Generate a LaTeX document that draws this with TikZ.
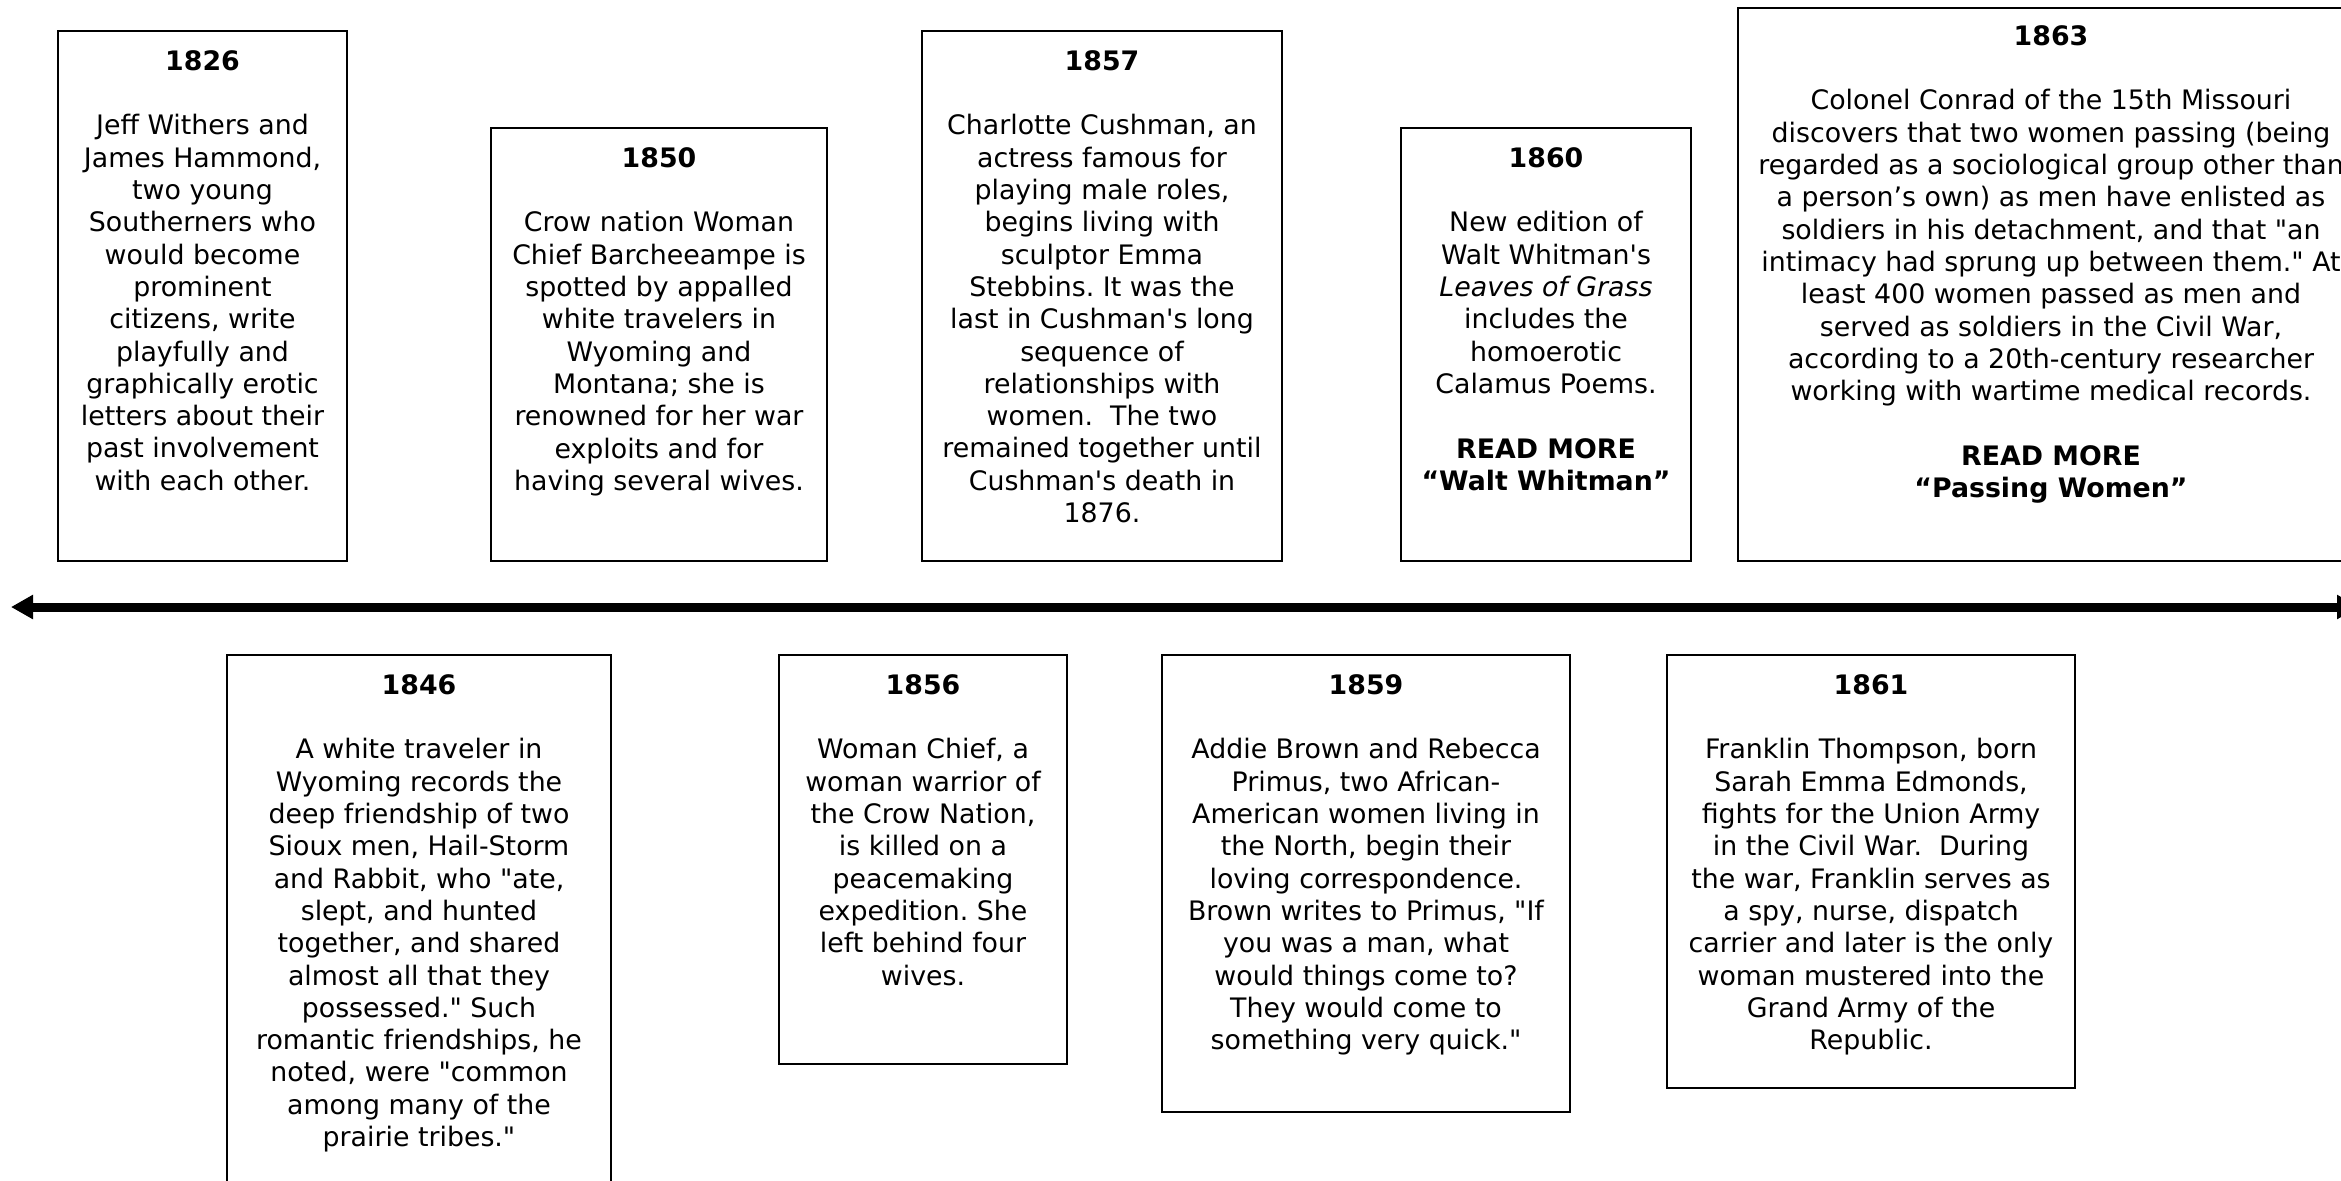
\documentclass[tikz,border=0pt]{standalone}
\usepackage{fontspec}
\setmainfont{DejaVu Sans}[Ligatures=TeXOff]
\usetikzlibrary{arrows.meta}
\tikzset{
  evbox/.style={draw=black, line width=1pt, fill=white, rectangle, inner sep=0pt, anchor=north west},
  evtext/.style={align=center, inner sep=0pt, anchor=north, text=black,
    font=\fontsize{13.4}{16.15}\selectfont\frenchspacing},
  timeline/.style={line width=4.5pt, {Triangle[length=11pt,width=11.5pt]}-{Triangle[length=11pt,width=11.5pt]}},
}
\newcommand\yr[1]{\textbf{#1}\\[\baselineskip]}
\begin{document}
\begin{tikzpicture}[x=0.5pt,y=-0.5pt]
\useasboundingbox (0,0) rectangle (2341,1180);
\clip (0,0) rectangle (2341,1180);
\fill[white] (0,0) rectangle (2341,1180);

% top row
\node[evbox, minimum width=144.5pt, minimum height=265pt] (b1826) at (57,30) {};
\node[evtext] (t1826) at ([yshift=-10pt]b1826.north) {\yr{1826}Jeff Withers and\\James Hammond,\\two young\\Southerners who\\would become\\prominent\\citizens, write\\playfully and\\graphically erotic\\letters about their\\past involvement\\with each other.};

\node[evbox, minimum width=168pt, minimum height=216.5pt] (b1850) at (490,127) {};
\node[evtext] (t1850) at ([yshift=-10pt]b1850.north) {\yr{1850}Crow nation Woman\\Chief Barcheeampe is\\spotted by appalled\\white travelers in\\Wyoming and\\Montana; she is\\renowned for her war\\exploits and for\\having several wives.};

\node[evbox, minimum width=180pt, minimum height=265pt] (b1857) at (921,30) {};
\node[evtext] (t1857) at ([yshift=-10pt]b1857.north) {\yr{1857}Charlotte Cushman, an\\actress famous for\\playing male roles,\\begins living with\\sculptor Emma\\Stebbins. It was the\\last in Cushman's long\\sequence of\\relationships with\\women.\ \ The two\\remained together until\\Cushman's death in\\1876.};

\node[evbox, minimum width=145pt, minimum height=216.5pt] (b1860) at (1400,127) {};
\node[evtext] (t1860) at ([yshift=-10pt]b1860.north) {\yr{1860}New edition of\\Walt Whitman's\\\textit{Leaves of Grass}\\includes the\\homoerotic\\Calamus Poems.\\[\baselineskip]\textbf{READ MORE}\\\textbf{“Walt Whitman”}};

\node[evbox, minimum width=313pt, minimum height=276.5pt] (b1863) at (1737,7) {};
\node[evtext] (t1863) at ([yshift=-9pt]b1863.north) {\yr{1863}Colonel Conrad of the 15th Missouri\\discovers that two women passing (being\\regarded as a sociological group other than\\a person’s own) as men have enlisted as\\soldiers in his detachment, and that "an\\intimacy had sprung up between them." At\\least 400 women passed as men and\\served as soldiers in the Civil War,\\according to a 20th-century researcher\\working with wartime medical records.\\[\baselineskip]\textbf{READ MORE}\\\textbf{“Passing Women”}};

% timeline
\coordinate (tlL) at (11,607);
\coordinate (tlR) at (2359,607);
\draw[timeline] (tlL) -- (tlR);

% bottom row
\node[evbox, minimum width=192pt, minimum height=273pt] (b1846) at (226,654) {};
\node[evtext] (t1846) at ([yshift=-10pt]b1846.north) {\yr{1846}A white traveler in\\Wyoming records the\\deep friendship of two\\Sioux men, Hail-Storm\\and Rabbit, who "ate,\\slept, and hunted\\together, and shared\\almost all that they\\possessed." Such\\romantic friendships, he\\noted, were "common\\among many of the\\prairie tribes."};

\node[evbox, minimum width=144pt, minimum height=204.5pt] (b1856) at (778,654) {};
\node[evtext] (t1856) at ([yshift=-10pt]b1856.north) {\yr{1856}Woman Chief, a\\woman warrior of\\the Crow Nation,\\is killed on a\\peacemaking\\expedition. She\\left behind four\\wives.};

\node[evbox, minimum width=204pt, minimum height=228.5pt] (b1859) at (1161,654) {};
\node[evtext] (t1859) at ([yshift=-10pt]b1859.north) {\yr{1859}Addie Brown and Rebecca\\Primus, two African-\\American women living in\\the North, begin their\\loving correspondence.\\Brown writes to Primus, "If\\you was a man, what\\would things come to?\\They would come to\\something very quick."};

\node[evbox, minimum width=204pt, minimum height=216.5pt] (b1861) at (1666,654) {};
\node[evtext] (t1861) at ([yshift=-10pt]b1861.north) {\yr{1861}Franklin Thompson, born\\Sarah Emma Edmonds,\\fights for the Union Army\\in the Civil War.\ \ During\\the war, Franklin serves as\\a spy, nurse, dispatch\\carrier and later is the only\\woman mustered into the\\Grand Army of the\\Republic.};
\end{tikzpicture}
\end{document}
